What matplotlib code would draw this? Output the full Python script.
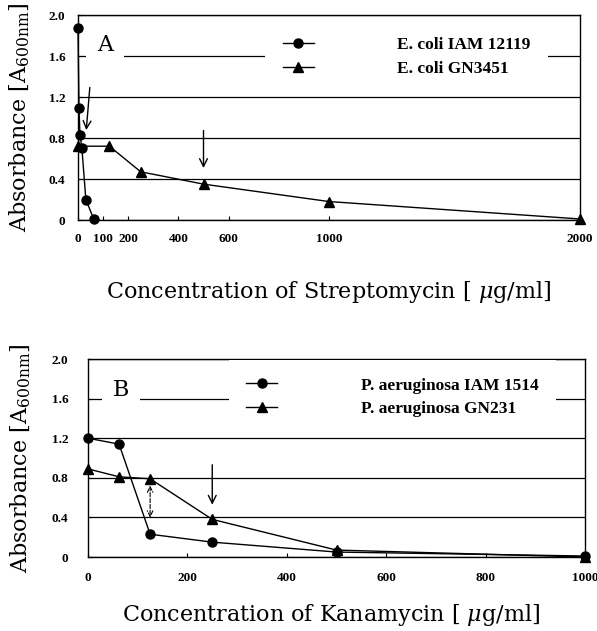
import matplotlib
matplotlib.use("Agg")
import matplotlib.pyplot as plt

plt.rcParams['mathtext.fontset'] = 'dejavuserif'

# panel A : streptomycin
strep_iam = [0, 3.9, 7.8, 15.6, 31.25, 62.5]
abs_iam = [1.87, 1.09, 0.83, 0.70, 0.20, 0.01]
strep_gn = [0, 125, 250, 500, 1000, 2000]
abs_gn = [0.72, 0.72, 0.47, 0.35, 0.18, 0.01]
strep_ticks = [0, 100, 200, 400, 600, 1000, 2000]

# panel B : kanamycin
kana = [0, 62.5, 125, 250, 500, 1000]
abs_pa_iam = [1.20, 1.14, 0.23, 0.15, 0.05, 0.01]
abs_pa_gn = [0.89, 0.81, 0.79, 0.38, 0.07, 0.0]
kana_ticks = [0, 200, 400, 600, 800, 1000]

y_ticks = [0, 0.4, 0.8, 1.2, 1.6, 2.0]
y_labels = ['0', '0.4', '0.8', '1.2', '1.6', '2.0']

tick_font = dict(family='Liberation Serif', weight='bold', size=9.5)
leg_font = dict(family='Liberation Serif', weight='bold', size=12.5)
lab_font = dict(family='DejaVu Serif', size=16)

fig = plt.figure(figsize=(5.97, 6.31), dpi=100)
axA = fig.add_axes([78/597, 1-220/631, 502/597, 205/631])
axB = fig.add_axes([88/597, 1-557/631, 497/597, 198/631])


def style_axis(ax, xmax, xticks, ypad, xpad):
    ax.set_xlim(0, xmax)
    ax.set_ylim(0, 2.0)
    ax.set_xticks(xticks)
    ax.set_xticklabels([str(t) for t in xticks], **tick_font)
    ax.set_yticks(y_ticks)
    ax.set_yticklabels(y_labels, **tick_font)
    ax.tick_params(direction='in', length=3, width=0.8)
    ax.tick_params(axis='y', pad=ypad)
    ax.tick_params(axis='x', pad=xpad)
    ax.yaxis.grid(True, color='black', lw=0.9)
    ax.set_axisbelow(True)
    for s in ax.spines.values():
        s.set_linewidth(1.0)


def add_legend(ax, handles, labels, cx, cy):
    ax.legend(handles, labels, loc='center', bbox_to_anchor=(cx, cy),
              frameon=True, facecolor='white', edgecolor='none', framealpha=1,
              fancybox=False, handlelength=1.8, handletextpad=4.8,
              labelspacing=0.45, borderpad=1.0, prop=leg_font)


style_axis(axA, 2000, strep_ticks, 9, 9)
l1, = axA.plot(strep_iam, abs_iam, color='black', lw=1, marker='o', ms=6.5, clip_on=False, zorder=3)
l2, = axA.plot(strep_gn, abs_gn, color='black', lw=1, marker='^', ms=6.5, clip_on=False, zorder=3)
axA.annotate('', xy=(500, 0.48), xytext=(500, 0.9),
             arrowprops=dict(arrowstyle='->', color='black', lw=1, mutation_scale=14))
axA.annotate('', xy=(32, 0.85), xytext=(48, 1.32),
             arrowprops=dict(arrowstyle='->', color='black', lw=1, mutation_scale=14))
axA.text(108, 1.71, 'A', ha='center', va='center', family='DejaVu Serif', size=16,
         bbox=dict(fc='white', ec='none', boxstyle='square,pad=0.5'))
add_legend(axA, [l1, l2], ['E. coli IAM 12119', 'E. coli GN3451'], 0.655, 0.795)
axA.set_xlabel(r'Concentration of Streptomycin [ $\mu$g/ml]', **lab_font)
axA.set_ylabel(r'Absorbance [A$_{\mathrm{600nm}}$]', **lab_font)
axA.xaxis.set_label_coords(0.5, -0.29)
axA.yaxis.set_label_coords(-0.092, 0.5)

style_axis(axB, 1000, kana_ticks, 14, 11)
l3, = axB.plot(kana, abs_pa_iam, color='black', lw=1, marker='o', ms=6.5, clip_on=False, zorder=3)
l4, = axB.plot(kana, abs_pa_gn, color='black', lw=1, marker='^', ms=6.5, clip_on=False, zorder=3)
axB.annotate('', xy=(250, 0.5), xytext=(250, 0.96),
             arrowprops=dict(arrowstyle='->', color='black', lw=1, mutation_scale=14))
axB.annotate('', xy=(125, 0.37), xytext=(125, 0.75),
             arrowprops=dict(arrowstyle='<->', color='black', lw=0.8, ls='--', mutation_scale=10))
axB.text(66, 1.69, 'B', ha='center', va='center', family='DejaVu Serif', size=16,
         bbox=dict(fc='white', ec='none', boxstyle='square,pad=0.5'))
add_legend(axB, [l3, l4], ['P. aeruginosa IAM 1514', 'P. aeruginosa GN231'], 0.612, 0.806)
axB.set_xlabel(r'Concentration of Kanamycin [ $\mu$g/ml]', **lab_font)
axB.set_ylabel(r'Absorbance [A$_{\mathrm{600nm}}$]', **lab_font)
axB.xaxis.set_label_coords(0.49, -0.225)
axB.yaxis.set_label_coords(-0.11, 0.5)

fig.savefig('out.png', dpi=100)
